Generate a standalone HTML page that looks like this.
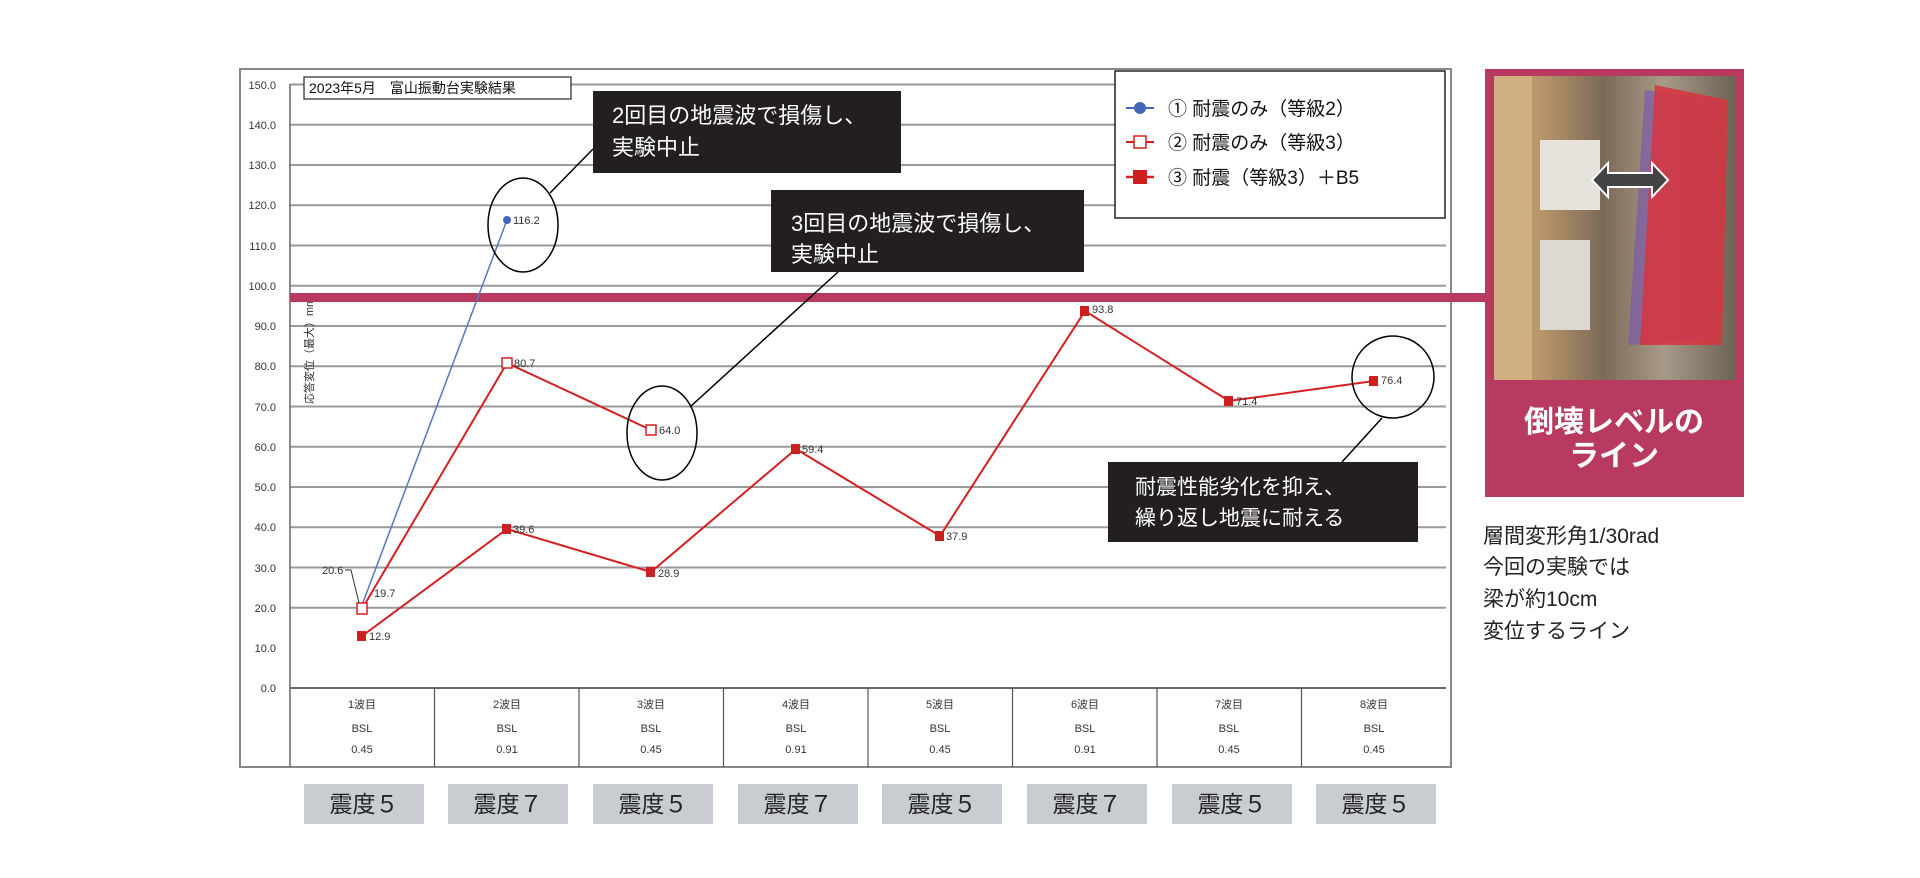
<!DOCTYPE html>
<html><head><meta charset="utf-8"><style>
html,body{margin:0;padding:0;background:#fff;}
body{width:1920px;height:873px;overflow:hidden;font-family:"Liberation Sans","Noto Sans CJK JP",sans-serif;}
</style></head><body>
<svg width="1920" height="873" viewBox="0 0 1920 873" xmlns="http://www.w3.org/2000/svg" font-family="Liberation Sans, Noto Sans CJK JP, sans-serif">
<rect x="240" y="69" width="1211" height="698" fill="#fff" stroke="#888" stroke-width="2"/>
<g stroke="#9a9a9a" stroke-width="2">
<line x1="290" y1="84.5" x2="1446" y2="84.5"/><line x1="290" y1="124.8" x2="1446" y2="124.8"/><line x1="290" y1="165" x2="1446" y2="165"/><line x1="290" y1="205.3" x2="1446" y2="205.3"/><line x1="290" y1="245.5" x2="1446" y2="245.5"/><line x1="290" y1="285.8" x2="1446" y2="285.8"/><line x1="290" y1="326" x2="1446" y2="326"/><line x1="290" y1="366.3" x2="1446" y2="366.3"/><line x1="290" y1="406.5" x2="1446" y2="406.5"/><line x1="290" y1="446.8" x2="1446" y2="446.8"/><line x1="290" y1="487" x2="1446" y2="487"/><line x1="290" y1="527.3" x2="1446" y2="527.3"/><line x1="290" y1="567.5" x2="1446" y2="567.5"/><line x1="290" y1="607.8" x2="1446" y2="607.8"/>
</g>
<line x1="290" y1="688" x2="1446" y2="688" stroke="#666" stroke-width="2"/>
<line x1="290" y1="84" x2="290" y2="767" stroke="#666" stroke-width="1.5"/>
<g stroke="#555" stroke-width="1.2">
<line x1="434.5" y1="688" x2="434.5" y2="767"/><line x1="579" y1="688" x2="579" y2="767"/><line x1="723.5" y1="688" x2="723.5" y2="767"/><line x1="868" y1="688" x2="868" y2="767"/><line x1="1012.5" y1="688" x2="1012.5" y2="767"/><line x1="1157" y1="688" x2="1157" y2="767"/><line x1="1301.5" y1="688" x2="1301.5" y2="767"/>
</g>
<g font-size="11" fill="#333" text-anchor="end">
<text x="276" y="89">150.0</text><text x="276" y="129">140.0</text><text x="276" y="169">130.0</text><text x="276" y="209">120.0</text><text x="276" y="250">110.0</text><text x="276" y="290">100.0</text><text x="276" y="330">90.0</text><text x="276" y="370">80.0</text><text x="276" y="411">70.0</text><text x="276" y="451">60.0</text><text x="276" y="491">50.0</text><text x="276" y="531">40.0</text><text x="276" y="572">30.0</text><text x="276" y="612">20.0</text><text x="276" y="652">10.0</text><text x="276" y="692">0.0</text>
</g>
<text transform="translate(313,404) rotate(-90)" font-size="11" fill="#333">応答変位（最大）mm</text>
<g font-size="11" fill="#333" text-anchor="middle">
<text x="362" y="708">1波目</text><text x="362" y="732">BSL</text><text x="362" y="753">0.45</text>
<text x="507" y="708">2波目</text><text x="507" y="732">BSL</text><text x="507" y="753">0.91</text>
<text x="651" y="708">3波目</text><text x="651" y="732">BSL</text><text x="651" y="753">0.45</text>
<text x="796" y="708">4波目</text><text x="796" y="732">BSL</text><text x="796" y="753">0.91</text>
<text x="940" y="708">5波目</text><text x="940" y="732">BSL</text><text x="940" y="753">0.45</text>
<text x="1085" y="708">6波目</text><text x="1085" y="732">BSL</text><text x="1085" y="753">0.91</text>
<text x="1229" y="708">7波目</text><text x="1229" y="732">BSL</text><text x="1229" y="753">0.45</text>
<text x="1374" y="708">8波目</text><text x="1374" y="732">BSL</text><text x="1374" y="753">0.45</text>
</g>
<rect x="304" y="77" width="267" height="22" fill="#fff" stroke="#222" stroke-width="1.2"/>
<text x="309" y="93" font-size="14" fill="#111">2023年5月　富山振動台実験結果</text>
<!-- collapse line -->
<rect x="290" y="293" width="1195" height="9" fill="#b73a5f"/>
<!-- series -->
<polyline points="362,605 507,220" fill="none" stroke="#5577c0" stroke-width="1.5"/>
<polyline points="362,609 507,363 651,430" fill="none" stroke="#d42020" stroke-width="2"/>
<polyline points="362,636 507,529 651,572 796,449 940,536 1085,311 1229,401 1374,381" fill="none" stroke="#d42020" stroke-width="2"/>
<circle cx="507" cy="220" r="4" fill="#4466bb"/>
<g fill="#fff" stroke="#d42020" stroke-width="1.5"><rect x="357" y="603" width="10" height="11"/><rect x="502" y="358" width="10" height="10"/><rect x="646" y="425" width="10" height="10"/></g>
<g fill="#cc1f1f"><rect x="357" y="631" width="9" height="10"/><rect x="502" y="524" width="9" height="10"/><rect x="646" y="567" width="9" height="10"/><rect x="791" y="444" width="9" height="10"/><rect x="935" y="531" width="9" height="10"/><rect x="1080" y="306" width="9" height="10"/><rect x="1224" y="396" width="9" height="10"/><rect x="1369" y="376" width="9" height="10"/></g>
<g font-size="11" fill="#333">
<text x="513" y="224">116.2</text><text x="514" y="367">80.7</text><text x="659" y="434">64.0</text>
<text x="369" y="640">12.9</text><text x="374" y="597">19.7</text><text x="322" y="574">20.6</text>
<text x="513" y="533">39.6</text><text x="658" y="577">28.9</text><text x="802" y="453">59.4</text><text x="946" y="540">37.9</text><text x="1092" y="313">93.8</text><text x="1236" y="405">71.4</text><text x="1381" y="384">76.4</text>
</g>
<polyline points="345,570 351,570 359,603" fill="none" stroke="#333" stroke-width="1"/>
<!-- circles -->
<g fill="none" stroke="#000" stroke-width="1.5">
<ellipse cx="523" cy="225" rx="35" ry="47"/><ellipse cx="662" cy="433" rx="35" ry="47"/><ellipse cx="1393" cy="377" rx="41" ry="41"/>
<line x1="550" y1="193" x2="593" y2="149"/><line x1="690" y1="407" x2="838" y2="272"/><line x1="1382" y1="418" x2="1342" y2="462"/>
</g>
<!-- callouts -->
<rect x="593" y="91" width="308" height="82" fill="#231f1f"/>
<text font-size="22" fill="#fff"><tspan x="612" y="123">2回目の地震波で損傷し、</tspan><tspan x="612" y="155">実験中止</tspan></text>
<rect x="771" y="190" width="313" height="82" fill="#231f1f"/>
<text font-size="22" fill="#fff"><tspan x="791" y="231">3回目の地震波で損傷し、</tspan><tspan x="791" y="262">実験中止</tspan></text>
<rect x="1108" y="462" width="310" height="80" fill="#231f1f"/>
<text font-size="21" fill="#fff"><tspan x="1135" y="494">耐震性能劣化を抑え、</tspan><tspan x="1135" y="525">繰り返し地震に耐える</tspan></text>
<!-- legend -->
<rect x="1115" y="71" width="330" height="147" fill="#fff" stroke="#222" stroke-width="1.5"/>
<line x1="1126" y1="108" x2="1154" y2="108" stroke="#4466bb" stroke-width="2"/><circle cx="1140" cy="108" r="6" fill="#4466bb"/>
<line x1="1126" y1="142" x2="1154" y2="142" stroke="#d42020" stroke-width="2"/><rect x="1134" y="136" width="12" height="12" fill="#fff" stroke="#d42020" stroke-width="1.5"/>
<line x1="1126" y1="177" x2="1154" y2="177" stroke="#d42020" stroke-width="2.5"/><rect x="1133" y="170" width="14" height="14" fill="#cc1f1f"/>
<g font-size="19" fill="#111"><text x="1168" y="115">① 耐震のみ（等級2）</text><text x="1168" y="149">② 耐震のみ（等級3）</text><text x="1168" y="184">③ 耐震（等級3）＋B5</text></g>
<!-- photo panel -->
<rect x="1485" y="69" width="259" height="428" fill="#b83a5e"/>
<defs><linearGradient id="wood" x1="0" x2="1"><stop offset="0" stop-color="#c9a878"/><stop offset="0.2" stop-color="#b8956a"/><stop offset="0.45" stop-color="#7b6a58"/><stop offset="0.7" stop-color="#a89a88"/><stop offset="1" stop-color="#6e6256"/></linearGradient></defs>
<rect x="1494" y="76" width="242" height="304" fill="url(#wood)"/>
<rect x="1494" y="76" width="38" height="304" fill="#cfae80"/>
<rect x="1540" y="140" width="60" height="70" fill="#e6e3dc"/>
<rect x="1540" y="240" width="50" height="90" fill="#ddd9d2"/>
<polygon points="1645,90 1718,100 1715,340 1628,345" fill="#7a5aa8" opacity="0.7"/>
<polygon points="1655,85 1728,100 1722,345 1640,345" fill="#d8343e" opacity="0.85"/>
<polygon points="1592,180 1608,163 1608,173 1652,173 1652,163 1668,180 1652,197 1652,187 1608,187 1608,197" fill="#444" stroke="#fff" stroke-width="2"/>
<text x="1614" y="432" font-size="30" font-weight="bold" fill="#fff" text-anchor="middle">倒壊レベルの</text>
<text x="1614" y="466" font-size="30" font-weight="bold" fill="#fff" text-anchor="middle">ライン</text>
<g font-size="21" fill="#222"><text x="1483" y="543">層間変形角1/30rad</text><text x="1483" y="574">今回の実験では</text><text x="1483" y="606">梁が約10cm</text><text x="1483" y="638">変位するライン</text></g>
<!-- shindo boxes -->
<g fill="#c9cdd1"><rect x="304" y="784" width="120" height="40"/><rect x="448" y="784" width="120" height="40"/><rect x="593" y="784" width="120" height="40"/><rect x="738" y="784" width="120" height="40"/><rect x="882" y="784" width="120" height="40"/><rect x="1027" y="784" width="120" height="40"/><rect x="1172" y="784" width="120" height="40"/><rect x="1316" y="784" width="120" height="40"/></g>
<g font-size="23" fill="#222" text-anchor="middle"><text x="364" y="812">震度５</text><text x="508" y="812">震度７</text><text x="653" y="812">震度５</text><text x="798" y="812">震度７</text><text x="942" y="812">震度５</text><text x="1087" y="812">震度７</text><text x="1232" y="812">震度５</text><text x="1376" y="812">震度５</text></g>
</svg>
</body></html>
